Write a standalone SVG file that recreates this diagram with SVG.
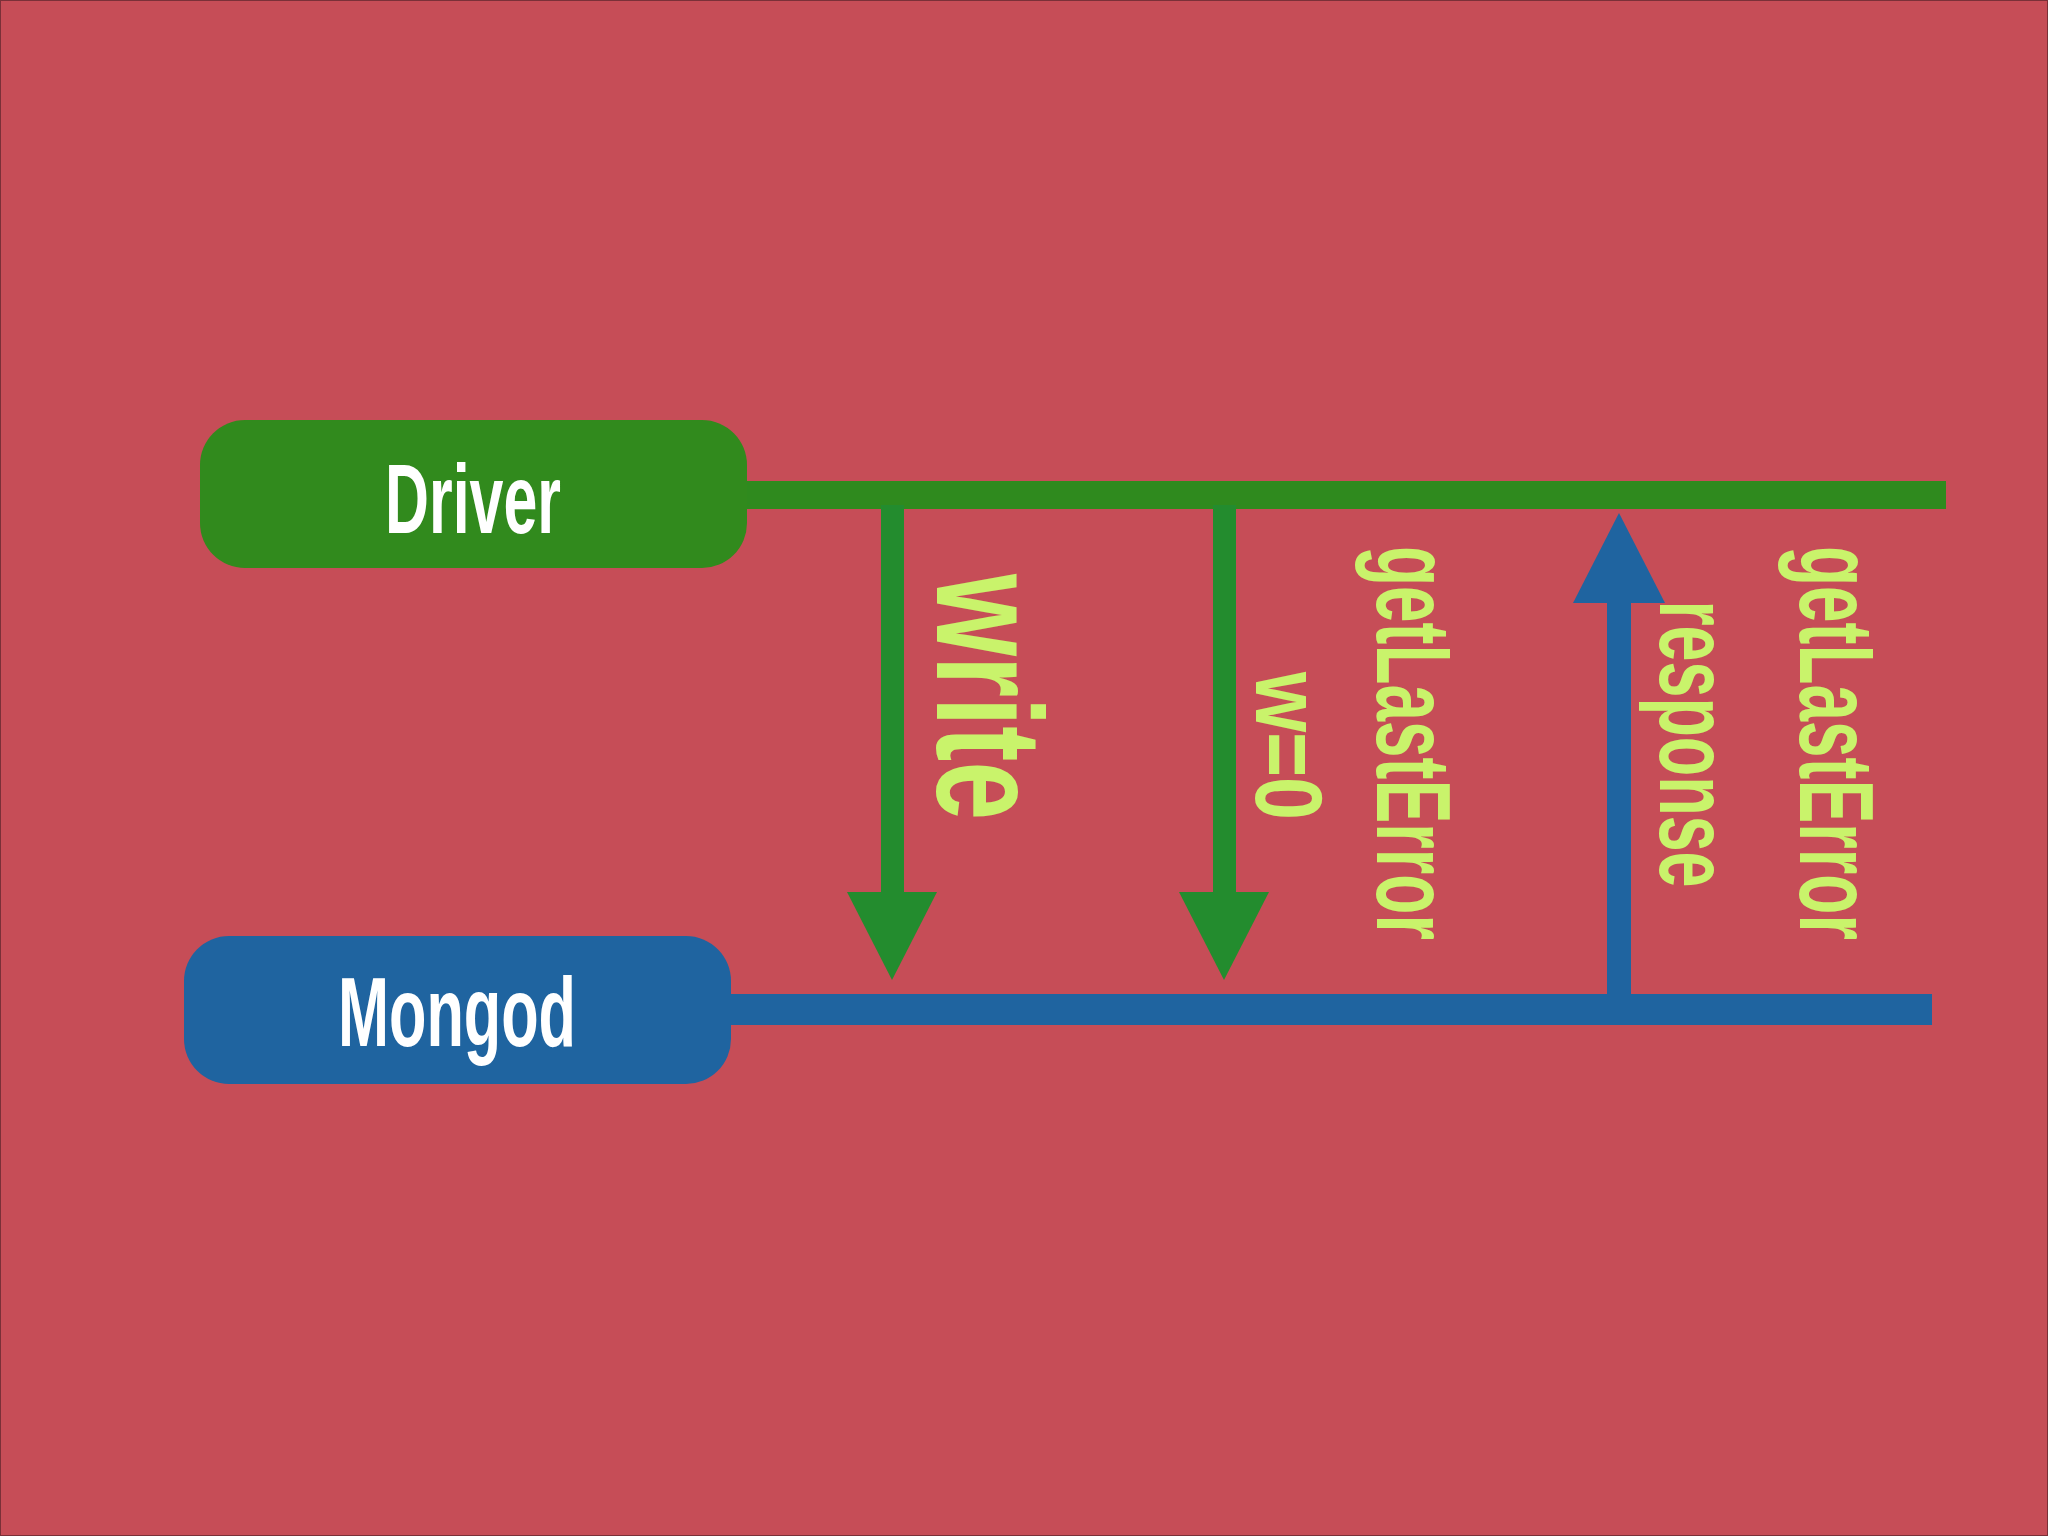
<svg xmlns="http://www.w3.org/2000/svg" width="2048" height="1536" viewBox="0 0 2048 1536">
<style>
.lbl{font-family:"Liberation Sans Narrow","Liberation Sans",Arial,sans-serif;font-weight:bold;fill:#C9F36B;text-anchor:middle;dominant-baseline:central}
.nd{font-family:"Liberation Sans Narrow","Liberation Sans",Arial,sans-serif;font-weight:bold;fill:#FFFFFF;text-anchor:middle;dominant-baseline:central}
</style>
<rect x="0.5" y="0.5" width="2047" height="1535" fill="#C64D57" stroke="#7a3038"/>
<g id="connectors">
<rect x="740" y="481" width="1206" height="28" fill="#2F8A1E"/>
<rect x="725" y="994" width="1207" height="31" fill="#1F64A0"/>
<rect x="881" y="505" width="23" height="390" fill="#238C2E"/>
<polygon points="847,892 937,892 892,980" fill="#238C2E"/>
<rect x="1213" y="505" width="23" height="390" fill="#238C2E"/>
<polygon points="1179,892 1269,892 1224,980" fill="#238C2E"/>
<rect x="1607" y="598" width="24" height="400" fill="#1F64A0"/>
<polygon points="1573,603 1665,603 1619,513" fill="#1F64A0"/>
</g>
<g id="driver">
<rect x="200" y="420" width="547" height="148" rx="45" fill="#318A1D"/>
<text class="nd" x="473" y="499" font-size="98" textLength="176" lengthAdjust="spacingAndGlyphs">Driver</text>
</g>
<g id="mongod">
<rect x="184" y="936" width="547" height="148" rx="45" fill="#1F64A0"/>
<text class="nd" x="457" y="1012" font-size="98" textLength="238" lengthAdjust="spacingAndGlyphs">Mongod</text>
</g>
<g id="labels">
<text class="lbl" transform="translate(989,697) rotate(90)" font-size="150" textLength="246" lengthAdjust="spacingAndGlyphs">write</text>
<text class="lbl" transform="translate(1288,746) rotate(90)" font-size="94" textLength="148" lengthAdjust="spacingAndGlyphs">w=0</text>
<text class="lbl" transform="translate(1413,743) rotate(90)" font-size="105" textLength="394" lengthAdjust="spacingAndGlyphs">getLastError</text>
<text class="lbl" transform="translate(1695,744) rotate(90)" font-size="100" textLength="287" lengthAdjust="spacingAndGlyphs">response</text>
<text class="lbl" transform="translate(1836,743) rotate(90)" font-size="105" textLength="394" lengthAdjust="spacingAndGlyphs">getLastError</text>
</g>
</svg>
